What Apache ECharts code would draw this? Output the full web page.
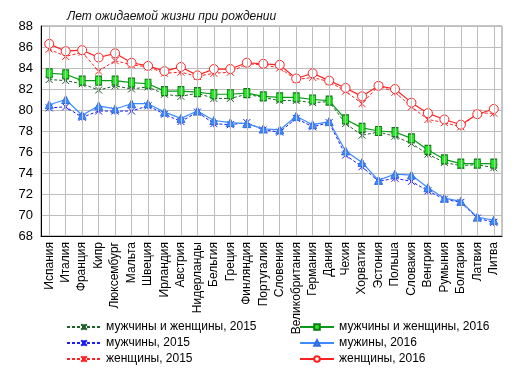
<!DOCTYPE html>
<html>
<head>
<meta charset="utf-8">
<script src="https://cdn.jsdelivr.net/npm/echarts@6/dist/echarts.min.js"></script>
<style>html,body{margin:0;padding:0;background:#fff;}#c{width:516px;height:368px;}</style>
</head>
<body>
<div id="c"></div>
<script>
const categories = ['Испания','Италия','Франция','Кипр','Люксембург','Мальта','Швеция','Ирландия','Австрия','Нидерланды','Бельгия','Греция','Финляндия','Португалия','Словения','Великобритания','Германия','Дания','Чехия','Хорватия','Эстония','Польша','Словакия','Венгрия','Румыния','Болгария','Латвия','Литва'];
const total2015 = [82.9,82.8,82.5,81.9,82.3,82.0,82.2,81.5,81.3,81.6,81.1,81.1,81.5,81.2,80.9,80.9,80.7,80.8,78.7,77.6,77.9,77.5,76.8,75.8,75.0,74.7,74.8,74.5];
const total2016 = [83.5,83.4,82.8,82.8,82.8,82.6,82.5,81.8,81.8,81.7,81.5,81.5,81.6,81.3,81.2,81.2,81.0,80.9,79.1,78.3,78.0,77.9,77.3,76.2,75.3,74.9,74.9,74.9];
const men2015 = [80.2,80.3,79.3,79.9,79.9,79.9,80.4,79.6,78.9,79.8,78.7,78.6,78.8,78.1,77.9,79.2,78.4,78.8,75.7,74.6,73.2,73.5,73.2,72.3,71.5,71.2,69.7,69.3];
const men2016 = [80.5,81.0,79.5,80.4,80.1,80.6,80.6,79.8,79.2,79.9,79.0,78.8,78.7,78.2,78.1,79.4,78.6,78.9,76.1,75.0,73.3,73.9,73.8,72.6,71.6,71.3,69.8,69.5];
const women2015 = [85.8,85.1,85.5,83.7,84.7,84.3,84.1,83.5,83.6,83.2,83.5,83.6,84.4,84.3,84.0,82.9,83.1,82.7,81.8,80.6,82.3,81.7,80.3,79.1,78.8,78.4,79.7,79.7];
const women2016 = [86.3,85.6,85.7,85.0,85.4,84.5,84.2,83.7,84.1,83.3,83.9,83.9,84.5,84.4,84.3,83.0,83.5,82.8,82.1,81.3,82.3,82.0,80.7,79.7,79.1,78.6,79.6,80.1];
const yTicks = {min: 68, max: 88, step: 2};
const titleText = 'Лет ожидаемой жизни при рождении';
const names = ['мужчины и женщины, 2015','мужчины, 2015','женщины, 2015','мужчины и женщины, 2016','мужины, 2016','женщины, 2016'];

const FONT = '"Liberation Sans", Arial, sans-serif';
const star = 'path://M0,0L10,10M10,0L0,10M5,0L5,10';

function dashed(name, data, color) {
  return {
    name: name, type: 'line', data: data, z: 3,
    symbol: star, symbolSize: 7,
    itemStyle: {color: 'rgba(0,0,0,0)', borderColor: color, borderWidth: 1},
    lineStyle: {color: color, width: 1, type: [3, 2]},
    emphasis: {disabled: true}, animation: false
  };
}
function solid(name, data, color, symbol, size, fill, border) {
  return {
    name: name, type: 'line', data: data, z: 4,
    symbol: symbol, symbolSize: size, showSymbol: true,
    itemStyle: {color: fill, borderColor: border, borderWidth: 1},
    lineStyle: {color: color, width: 1.2, type: 'solid'},
    emphasis: {disabled: true}, animation: false
  };
}
function legendCol(data, left) {
  return {
    data: data, orient: 'vertical', left: left, top: 320, height: 48, padding: 0,
    itemWidth: 34, itemHeight: 7, itemGap: 2,
    textStyle: {fontFamily: FONT, fontSize: 12, lineHeight: 14, color: '#000'}
  };
}

const chart = echarts.init(document.getElementById('c'), null, {renderer: 'canvas'});
chart.setOption({
  animation: false,
  backgroundColor: '#fff',
  title: {
    text: titleText, left: 62, top: 6,
    textStyle: {fontFamily: FONT, fontSize: 12, fontStyle: 'italic', fontWeight: 'normal', color: '#111'}
  },
  grid: {left: 41, right: 14, top: 26, bottom: 132, show: true, borderColor: '#8c8c8c', borderWidth: 1, backgroundColor: '#fff'},
  legend: [
    legendCol([names[0], names[1], names[2]], 66),
    legendCol([names[3], names[4], names[5]], 299)
  ],
  xAxis: {
    type: 'category', data: categories, boundaryGap: true,
    axisLine: {lineStyle: {color: '#000', width: 1}},
    axisTick: {show: false},
    splitLine: {show: false},
    axisLabel: {rotate: 90, interval: 0, margin: 6, fontFamily: FONT, fontSize: 12, color: '#000'}
  },
  yAxis: {
    type: 'value', min: yTicks.min, max: yTicks.max, interval: yTicks.step,
    axisLine: {show: true, lineStyle: {color: '#000', width: 1}},
    axisTick: {show: false},
    splitLine: {lineStyle: {color: '#bdbdbd', width: 1}},
    axisLabel: {margin: 8, fontFamily: FONT, fontSize: 13, color: '#000'}
  },
  series: [
    {
      name: 'grid-v', type: 'line', data: [], z: 1, silent: true,
      markLine: {
        silent: true, symbol: ['none', 'none'], label: {show: false},
        lineStyle: {color: '#bdbdbd', width: 1, type: 'solid'},
        emphasis: {disabled: true},
        data: categories.map(c => ({xAxis: c}))
      }
    },
    dashed(names[0], total2015, '#1f5f2a'),
    dashed(names[1], men2015, '#1a1aff'),
    dashed(names[2], women2015, '#ff2020'),
    solid(names[3], total2016, '#0a9a1a', 'rect', [6, 9], '#22ee22', '#0a7a10'),
    solid(names[4], men2016, '#3d8bff', 'triangle', 8, '#3d8bff', '#2f6fe0'),
    solid(names[5], women2016, '#ff2020', 'circle', 9, '#ffffff', '#ff2020')
  ]
});
</script>
</body>
</html>
